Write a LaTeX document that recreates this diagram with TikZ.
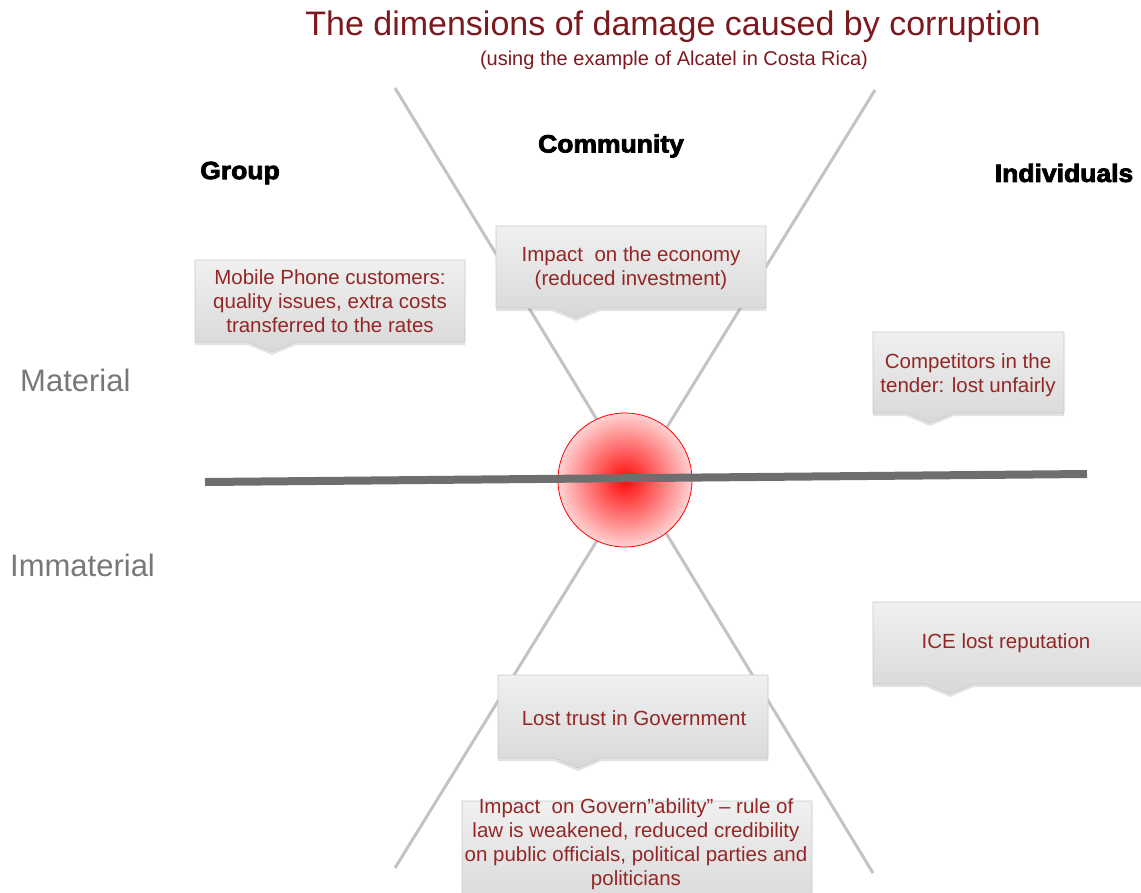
\documentclass[tikz,border=0pt]{standalone}
\usepackage{fontspec}
\setmainfont{Liberation Sans}
\newfontfamily\hdrfont[FakeBold=3]{Liberation Sans}
\usetikzlibrary{shadows,calc}
\definecolor{txtred}{RGB}{150,38,38}
\definecolor{ttlred}{RGB}{125,25,30}
\definecolor{xgray}{RGB}{195,195,195}
\definecolor{bargray}{RGB}{110,110,110}
\definecolor{boxtop}{RGB}{240,240,240}
\definecolor{boxbot}{RGB}{216,216,216}
\definecolor{boxline}{RGB}{202,202,202}
\definecolor{sidegray}{RGB}{120,120,120}
\definecolor{corein}{RGB}{255,10,10}
\definecolor{coreout}{RGB}{255,210,210}
\newcommand\dmgbox[5]{%
  \path[boxshape] (#1,#2) -- (#3,#2) -- (#3,#4) -- (#5+24,#4) -- (#5,#4+10) -- (#5-24,#4) -- (#1,#4) -- cycle;}
\begin{document}
\begin{tikzpicture}[x=1pt,y=-1pt,
  xline/.style={xgray, line width=3pt},
  barline/.style={bargray, line width=8pt},
  boxshape/.style={top color=boxtop, bottom color=boxbot, draw=boxline, line width=0.6pt,
    drop shadow={opacity=0.22, shadow xshift=0pt, shadow yshift=-3pt}},
  boxtext/.style={text=txtred, font=\fontsize{20.5}{24}\selectfont, align=center, inner sep=0pt},
  hdr/.style={font=\hdrfont\bfseries\fontsize{25}{30}\selectfont, xscale=1.06, inner sep=0pt},
  side/.style={text=sidegray, font=\fontsize{31}{36}\selectfont, inner sep=0pt, anchor=west},
  ttl/.style={text=ttlred, inner sep=0pt}]
\useasboundingbox (0,0) rectangle (1141,892);
% X lines
\coordinate (ulA) at (395,88);
\coordinate (lrA) at (873,873);
\coordinate (urB) at (875,90);
\coordinate (llB) at (395,868);
\draw[xline] (ulA) -- (lrA);
\draw[xline] (urB) -- (llB);
% core circle
\node[circle, minimum size=134pt, inner color=corein, outer color=coreout, draw=red, line width=0.8pt] (core) at (625,480) {};
% axis bar
\coordinate (barL) at (205,482);
\coordinate (barR) at (1087,474);
\draw[barline] (barL) -- (barR);
% boxes
\dmgbox{195}{260}{465}{342}{272}
\dmgbox{496}{226}{766}{308}{576}
\dmgbox{873}{332}{1064}{413}{930}
\dmgbox{873}{602}{1150}{684}{950}
\dmgbox{498}{675}{768}{758}{578}
\dmgbox{462}{801}{812}{905}{560}
\node[boxtext] (b1) at (330,301) {Mobile Phone customers:\\quality issues, extra costs\\transferred to the rates};
\node[boxtext] (b2) at (631,268) {Impact\ \ on the economy\\(reduced investment)};
\node[boxtext] (b3) at (968,375) {Competitors in the\\tender: lost unfairly};
\node[boxtext] (b4) at (1006,643) {ICE lost reputation};
\node[boxtext] (b5) at (634,718) {Lost trust in Government};
\node[boxtext] (b6) at (636,844) {Impact\ \ on Govern”ability” – rule of\\law is weakened, reduced credibility\\on public officials, political parties and\\politicians};
% headers
\node[hdr] (hg) at (240,173) {Group};
\node[hdr] (hc) at (611,146) {Community};
\node[hdr] (hi) at (1064,173) {Individuals};
% side labels
\node[side] (mat) at (20,380) {Material};
\node[side] (imm) at (10,565) {Immaterial};
% title
\node[ttl, font=\fontsize{34}{40}\selectfont] (title) at (673,27) {The dimensions of damage caused by corruption};
\node[ttl, font=\fontsize{20}{24}\selectfont] (sub) at (674,60) {(using the example of Alcatel in Costa Rica)};
\end{tikzpicture}
\end{document}
